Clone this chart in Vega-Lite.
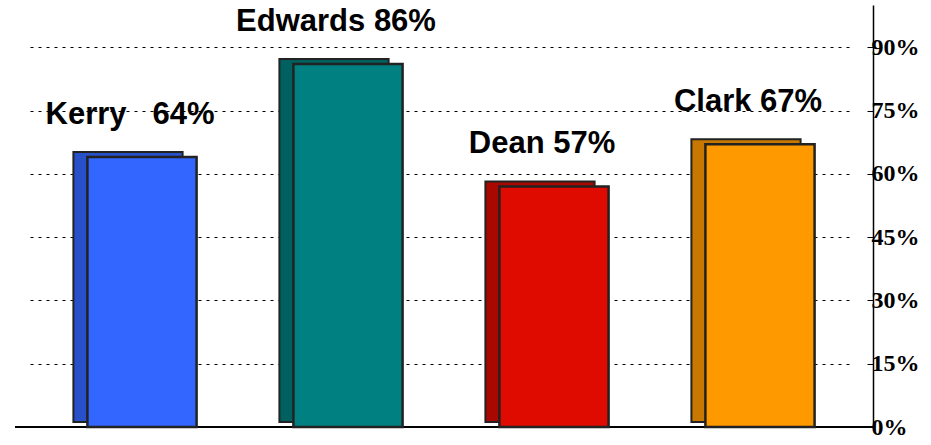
{
  "$schema": "https://vega.github.io/schema/vega-lite/v6.json",
  "width": 858,
  "height": 422,
  "autosize": "none",
  "padding": {"left": 15, "top": 5, "right": 58, "bottom": 18},
  "background": "white",
  "config": {"view": {"stroke": null}},
  "data": {"values": [
    {"candidate": "Kerry", "pct": 64, "label": "Kerry\u00a0\u00a0 64%", "color": "#3366FF", "side": "#2850C8"},
    {"candidate": "Edwards", "pct": 86, "label": "Edwards 86%", "color": "#008080", "side": "#006060"},
    {"candidate": "Dean", "pct": 57, "label": "Dean 57%", "color": "#E00B00", "side": "#A80800"},
    {"candidate": "Clark", "pct": 67, "label": "Clark 67%", "color": "#FF9900", "side": "#C87800"}
  ]},
  "encoding": {
    "x": {"field": "candidate", "type": "nominal", "sort": null, "axis": null,
          "scale": {"range": [24, 848], "paddingInner": 0.47, "paddingOuter": 0.235}},
    "y": {"field": "pct", "type": "quantitative",
          "scale": {"domain": [0, 100], "nice": false},
          "axis": {"orient": "right", "values": [0, 15, 30, 45, 60, 75, 90],
                   "labelExpr": "datum.value + '%'", "title": null,
                   "labelFont": "Liberation Serif", "labelFontWeight": "bold", "labelFontSize": 24,
                   "labelColor": "black", "domainColor": "black", "domainWidth": 1.5,
                   "tickColor": "black", "tickSize": -6, "labelPadding": 4,
                   "grid": true, "gridColor": "black", "gridDash": [3, 5], "gridWidth": 1.2}}
  },
  "layer": [
    {"mark": {"type": "rule", "color": "black", "strokeWidth": 1.5},
     "encoding": {"x": {"value": 0}, "x2": {"value": 858}, "y": {"datum": 0}}},
    {"mark": {"type": "bar", "xOffset": -14, "yOffset": -5, "stroke": "#222", "strokeWidth": 2},
     "encoding": {"color": {"field": "side", "type": "nominal", "scale": null}}},
    {"mark": {"type": "bar", "stroke": "#222", "strokeWidth": 2.5},
     "encoding": {"color": {"field": "color", "type": "nominal", "scale": null}}},
    {"mark": {"type": "text", "font": "Liberation Sans", "fontWeight": "bold", "fontSize": 31,
              "color": "black", "dy": -42, "dx": -12, "baseline": "middle"},
     "encoding": {"text": {"field": "label"}}}
  ]
}
